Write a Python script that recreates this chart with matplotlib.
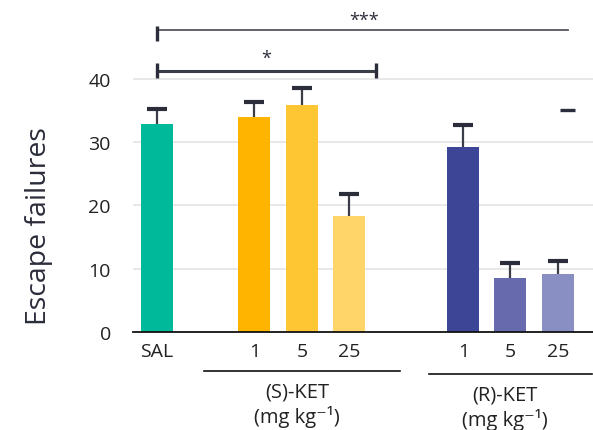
import matplotlib
matplotlib.use("Agg")
import matplotlib.pyplot as plt

plt.rcParams['font.family'] = ['Open Sans', 'DejaVu Sans']

groups = ["SAL", "1", "5", "25", "1", "5", "25"]
values = [32.8, 34.0, 35.9, 18.3, 29.3, 8.6, 9.2]
errors = [2.5, 2.4, 2.7, 3.5, 3.4, 2.3, 2.0]
colors = ["#00B89A", "#FFB500", "#FFC633", "#FFD468", "#3D4597", "#676BAD", "#8A8FC3"]
positions = [0, 2.05, 3.05, 4.05, 6.45, 7.43, 8.45]
yticks = [0, 10, 20, 30, 40]
ink = "#2B2D3A"
txt = "#222222"

fig = plt.figure(figsize=(5.93, 4.31), dpi=100)
ax = fig.add_axes([133/593, (431-333)/431, 1 - 133/593, 333/431])
ax.set_xlim(-0.505, 9.18)
ax.set_ylim(0, 52.6)

for y in yticks[1:]:
    ax.axhline(y, color="#E8E8E8", lw=1.4, zorder=0)

ax.bar(positions, values, width=0.67, color=colors, zorder=2)
tops = [v + e for v, e in zip(values, errors)]
ax.vlines(positions, values, tops, color="#3A3C48", lw=1.6, zorder=3)
ax.plot(positions, tops, ls="none", marker="_", ms=15, mew=3, color=ink, zorder=3)

for s in ["top", "right", "left"]:
    ax.spines[s].set_visible(False)
ax.spines["bottom"].set_color("#111111")
ax.spines["bottom"].set_linewidth(1.3)
ax.set_yticks(yticks)
ax.set_xticks(positions)
ax.set_xticklabels(groups)
ax.tick_params(axis="both", length=0, labelsize=14, colors=txt)
ax.tick_params(axis="x", pad=7)
ax.tick_params(axis="y", pad=16)
ax.set_ylabel("Escape failures", fontsize=20.5, color="#2B2D3A", va="center")
ax.yaxis.set_label_coords((39 - 133) / 460, (333 - 226) / 333)

# stray dash mark
ax.plot([8.48, 8.8], [35.0, 35.0], color=ink, lw=2.4, solid_capstyle="butt", clip_on=False)

# significance brackets
ax.plot([0, 8.65], [47.75, 47.75], color="#55565F", lw=1.3, clip_on=False)
ax.plot([0, 0], [46.0, 48.4], color=ink, lw=2.4, solid_capstyle="butt", clip_on=False)
ax.text(4.35, 49.3, "***", ha="center", va="center", fontsize=13, color=ink)

ax.plot([0, 4.61], [41.26, 41.26], color="#3A3C48", lw=2.2, clip_on=False)
ax.plot([0, 0], [40.2, 42.5], color=ink, lw=2.4, solid_capstyle="butt", clip_on=False)
ax.plot([4.61, 4.61], [40.2, 42.5], color=ink, lw=2.4, solid_capstyle="butt", clip_on=False)
ax.text(2.3, 43.3, "*", ha="center", va="center", fontsize=13, color=ink)

# group labels
ax.plot([0.99, 5.11], [-6.17, -6.17], color="#111111", lw=1.2, clip_on=False)
ax.plot([5.73, 9.16], [-6.64, -6.64], color="#111111", lw=1.2, clip_on=False)
ax.text(2.95, -9.4, "(S)-KET", ha="center", va="center", fontsize=14.5, color=txt)
ax.text(2.95, -13.2, "(mg kg⁻¹)", ha="center", va="center", fontsize=14.5, color=txt)
ax.text(7.33, -9.9, "(R)-KET", ha="center", va="center", fontsize=14.5, color=txt)
ax.text(7.33, -13.8, "(mg kg⁻¹)", ha="center", va="center", fontsize=14.5, color=txt)

fig.savefig("out.png", dpi=100)
